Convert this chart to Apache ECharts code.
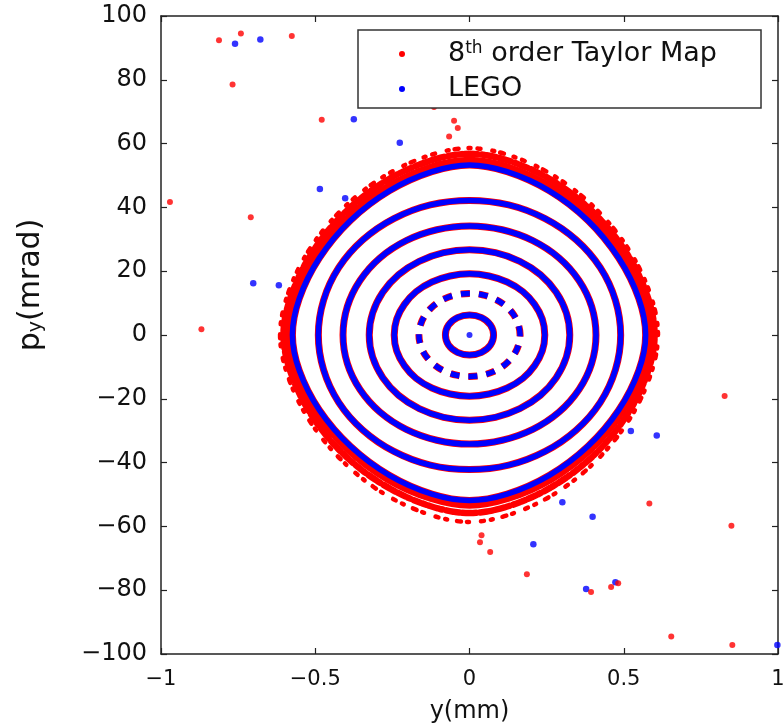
<!DOCTYPE html>
<html><head><meta charset="utf-8">
<script src="https://cdn.jsdelivr.net/npm/echarts@6/dist/echarts.min.js"></script>
<style>html,body{margin:0;padding:0;background:#fff}#c{width:784px;height:726px}</style>
</head><body><div id="c"></div>
<script>
// ---- data ----
const xTicks = [-1, -0.5, 0, 0.5, 1];
const yTicks = [-100, -80, -60, -40, -20, 0, 20, 40, 60, 80, 100];
const seriesNames = ['8th order Taylor Map', 'LEGO'];

// LEGO rings: [y (mm), p_y (mrad)]
const ring7 = [[0.571,0],[0.549,11.4],[0.484,24.1],[0.384,35.9],[0.259,45.2],[0.122,51.2],[0,53.3],[-0.122,51.2],[-0.260,45.2],[-0.386,35.9],[-0.487,24.1],[-0.552,11.4],[-0.574,0],[-0.552,-11.1],[-0.487,-23.5],[-0.386,-34.9],[-0.260,-44.0],[-0.122,-49.9],[0,-51.9],[0.122,-49.9],[0.259,-44.0],[0.384,-34.9],[0.484,-23.5],[0.549,-11.1]];
const ring6 = [[0.49,0],[0.473,10.9],[0.424,21.1],[0.346,29.8],[0.245,36.5],[0.127,40.8],[0,42.2],[-0.127,40.8],[-0.245,36.5],[-0.346,29.8],[-0.424,21.1],[-0.473,10.9],[-0.49,0],[-0.473,-10.9],[-0.424,-21.1],[-0.346,-29.8],[-0.245,-36.5],[-0.127,-40.8],[0,-42.2],[0.127,-40.8],[0.245,-36.5],[0.346,-29.8],[0.424,-21.1],[0.473,-10.9]];
const ring5 = [[0.41,0],[0.396,8.9],[0.355,17.1],[0.290,24.2],[0.205,29.6],[0.106,33.0],[0,34.2],[-0.106,33.0],[-0.205,29.6],[-0.290,24.2],[-0.355,17.1],[-0.396,8.9],[-0.41,0],[-0.396,-8.9],[-0.355,-17.1],[-0.290,-24.2],[-0.205,-29.6],[-0.106,-33.0],[0,-34.2],[0.106,-33.0],[0.205,-29.6],[0.290,-24.2],[0.355,-17.1],[0.396,-8.9]];
const ring4 = [[0.325,0],[0.314,6.9],[0.281,13.4],[0.230,18.9],[0.163,23.1],[0.084,25.8],[0,26.7],[-0.084,25.8],[-0.163,23.1],[-0.230,18.9],[-0.281,13.4],[-0.314,6.9],[-0.325,0],[-0.314,-6.9],[-0.281,-13.4],[-0.230,-18.9],[-0.163,-23.1],[-0.084,-25.8],[0,-26.7],[0.084,-25.8],[0.163,-23.1],[0.230,-18.9],[0.281,-13.4],[0.314,-6.9]];
const ring3 = [[0.244,0],[0.236,5.0],[0.211,9.6],[0.173,13.6],[0.122,16.6],[0.063,18.5],[0,19.2],[-0.063,18.5],[-0.122,16.6],[-0.173,13.6],[-0.211,9.6],[-0.236,5.0],[-0.244,0],[-0.236,-5.0],[-0.211,-9.6],[-0.173,-13.6],[-0.122,-16.6],[-0.063,-18.5],[0,-19.2],[0.063,-18.5],[0.122,-16.6],[0.173,-13.6],[0.211,-9.6],[0.236,-5.0]];
const ring2 = [[0.164,0],[0.158,3.4],[0.142,6.5],[0.116,9.2],[0.082,11.3],[0.042,12.6],[0,13.0],[-0.042,12.6],[-0.082,11.3],[-0.116,9.2],[-0.142,6.5],[-0.158,3.4],[-0.164,0],[-0.158,-3.4],[-0.142,-6.5],[-0.116,-9.2],[-0.082,-11.3],[-0.042,-12.6],[0,-13.0],[0.042,-12.6],[0.082,-11.3],[0.116,-9.2],[0.142,-6.5],[0.158,-3.4]];
const ring1 = [[0.078,0],[0.068,3.15],[0.039,5.46],[0,6.3],[-0.039,5.46],[-0.068,3.15],[-0.078,0],[-0.068,-3.15],[-0.039,-5.46],[0,-6.3],[0.039,-5.46],[0.068,-3.15]];
const centerPoint = [[0,0]];

// Taylor-map halo outside the outer ring (inner, middle, outer layer)
const haloA = [[0.585,0],[0.562,11.7],[0.496,24.9],[0.394,36.9],[0.265,46.6],[0.125,52.8],[0,54.9],[-0.125,52.8],[-0.266,46.6],[-0.396,36.9],[-0.499,24.9],[-0.565,11.7],[-0.588,0],[-0.565,-11.4],[-0.499,-24.2],[-0.396,-36.0],[-0.266,-45.4],[-0.125,-51.4],[0,-53.5],[0.125,-51.4],[0.265,-45.4],[0.394,-36.0],[0.496,-24.2],[0.562,-11.4]];
const haloB = [[0.600,0],[0.577,12.1],[0.509,25.7],[0.404,38.2],[0.272,48.2],[0.128,54.6],[0,56.8],[-0.128,54.6],[-0.273,48.2],[-0.406,38.2],[-0.511,25.7],[-0.579,12.1],[-0.603,0],[-0.579,-11.9],[-0.511,-25.3],[-0.406,-37.6],[-0.273,-47.3],[-0.128,-53.6],[0,-55.8],[0.128,-53.6],[0.272,-47.3],[0.404,-37.6],[0.509,-25.3],[0.577,-11.9]];
const haloC = [[0.611,0],[0.587,12.5],[0.518,26.5],[0.411,39.4],[0.277,49.7],[0.130,56.3],[0,58.6],[-0.130,56.3],[-0.278,49.7],[-0.413,39.4],[-0.521,26.5],[-0.590,12.5],[-0.614,0],[-0.590,-12.5],[-0.521,-26.5],[-0.413,-39.4],[-0.278,-49.7],[-0.130,-56.3],[0,-58.6],[0.130,-56.3],[0.277,-49.7],[0.411,-39.4],[0.518,-26.5],[0.587,-12.5]];

const redStray = [[-0.812,92.4],[-0.741,94.5],[-0.576,93.7],[-0.768,78.5],[-0.479,67.5],[-0.115,71.5],[-0.050,67.2],[-0.038,64.9],[-0.066,62.2],[-0.971,41.7],[-0.709,36.9],[-0.869,1.8],[0.827,-19.1],[0.583,-52.8],[0.849,-59.8],[0.039,-62.8],[0.034,-65.0],[0.067,-68.0],[0.186,-75.0],[0.394,-80.6],[0.459,-79.0],[0.482,-77.8],[0.654,-94.5],[0.852,-97.2]];
const blueStray = [[-0.760,91.3],[-0.678,92.6],[-0.375,67.6],[-0.226,60.3],[-0.485,45.8],[-0.403,42.9],[-0.701,16.2],[-0.618,15.6],[0.523,-30.1],[0.607,-31.5],[0.301,-52.4],[0.399,-57.0],[0.207,-65.6],[0.378,-79.6],[0.473,-77.5],[0.998,-97.2]];

// ---- chart ----
const RED = '#ff0000', BLUE = '#0000ff';
const FONT = 'DejaVu Sans';
const minus = v => (v < 0 ? '\u2212' + Math.abs(v) : String(v));

// closed smooth curve through the ring's vertices, mapped with the axes
function ringSeries(name, ring, color, width, dash, cap) {
  return {
    type: 'custom', name: name, data: ring, encode: { x: 0, y: 1 }, silent: true, animation: false,
    renderItem: function (params, api) {
      if (params.dataIndex !== 0) return null;
      const pts = ring.map(p => api.coord(p));
      return {
        type: 'polygon', shape: { points: pts, smooth: 0.34 },
        style: { fill: 'none', stroke: color, lineWidth: width, lineDash: dash || null, lineCap: cap || 'butt' }
      };
    }
  };
}

const series = [];
series.push(ringSeries(seriesNames[0], haloC, RED, 4.5, [3, 7, 2, 10, 4, 6, 2, 12], 'round'));
series.push(ringSeries(seriesNames[0], haloB, RED, 6.5, [7, 2, 4, 3, 9, 2, 3, 4], 'round'));
series.push(ringSeries(seriesNames[0], haloA, RED, 6));
[ring7, ring6, ring5, ring4, ring3, ring1].forEach(r => series.push(ringSeries(seriesNames[0], r, RED, 7)));
series.push(ringSeries(seriesNames[0], ring2, RED, 7, [9, 9]));
[ring7, ring6, ring5, ring4, ring3, ring1].forEach(r => series.push(ringSeries(seriesNames[1], r, BLUE, 5.5)));
series.push(ringSeries(seriesNames[1], ring2, BLUE, 5.5, [9, 9]));
series.push({ type: 'scatter', name: seriesNames[1], data: centerPoint, symbol: 'circle', symbolSize: 6, itemStyle: { color: BLUE }, silent: true });
series.push({ type: 'scatter', name: seriesNames[1], data: blueStray, symbol: 'circle', symbolSize: 6.5, itemStyle: { color: BLUE }, silent: true });
series.push({ type: 'scatter', name: seriesNames[0], data: redStray, symbol: 'circle', symbolSize: 6, itemStyle: { color: RED }, silent: true });

const axisLine = { show: true, onZero: false, lineStyle: { color: '#222', width: 1.5 } };
const tick = { show: true, inside: true, length: 6, lineStyle: { color: '#222', width: 1.2 } };

const chart = echarts.init(document.getElementById('c'), null, { renderer: 'canvas' });
chart.setOption({
  animation: false,
  backgroundColor: '#fff',
  grid: { left: 161, right: 6, top: 16, bottom: 72, containLabel: false, outerBoundsMode: 'none' },
  xAxis: [
    { type: 'value', position: 'bottom', min: xTicks[0], max: xTicks[xTicks.length - 1], interval: 0.5,
      axisLine: axisLine, axisTick: tick, splitLine: { show: false },
      axisLabel: { formatter: minus, fontSize: 21, color: '#111', fontFamily: FONT, margin: 15 },
      name: 'y(mm)', nameLocation: 'middle', nameGap: 46,
      nameTextStyle: { fontSize: 24, color: '#111', fontFamily: FONT } },
    { type: 'value', position: 'top', min: xTicks[0], max: xTicks[xTicks.length - 1], interval: 0.5,
      axisLine: axisLine, axisTick: tick, splitLine: { show: false }, axisLabel: { show: false } }
  ],
  yAxis: [
    { type: 'value', position: 'left', min: yTicks[0], max: yTicks[yTicks.length - 1], interval: 20,
      axisLine: axisLine, axisTick: tick, splitLine: { show: false },
      axisLabel: { formatter: minus, fontSize: 24, color: '#111', fontFamily: FONT, margin: 14 } },
    { type: 'value', position: 'right', min: yTicks[0], max: yTicks[yTicks.length - 1], interval: 20,
      axisLine: axisLine, axisTick: tick, splitLine: { show: false }, axisLabel: { show: false } }
  ],
  graphic: [{
    type: 'text', x: 31, y: 285, rotation: Math.PI / 2,
    style: { text: 'p{sub|y}(mrad)', font: '30px "DejaVu Sans"', fill: '#111', align: 'center', verticalAlign: 'middle',
      rich: { sub: { fontSize: 19, fontFamily: FONT, fill: '#111', verticalAlign: 'bottom', lineHeight: 10 } } }
  }],
  legend: {
    left: 358, top: 30, orient: 'vertical',
    data: [
      { name: seriesNames[0], icon: 'circle', itemStyle: { color: RED } },
      { name: seriesNames[1], icon: 'circle', itemStyle: { color: BLUE } }
    ],
    itemWidth: 82, itemHeight: 6, itemGap: 7,
    padding: [10, 44, 5, 41],
    borderColor: '#333', borderWidth: 1.5, backgroundColor: '#fff',
    selectedMode: false,
    formatter: n => (n === seriesNames[0] ? '8{sup|th} order Taylor Map' : n),
    textStyle: { fontSize: 27, color: '#111', fontFamily: FONT, lineHeight: 28,
      rich: { sup: { fontSize: 17, fontFamily: FONT, color: '#111', verticalAlign: 'top', lineHeight: 14 } } }
  },
  series: series
});
</script>
</body></html>
